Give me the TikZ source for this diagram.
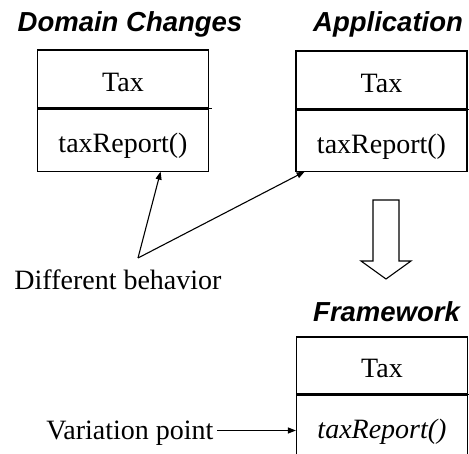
\documentclass[tikz,border=0pt]{standalone}
\usepackage{fontspec}
\setmainfont{Liberation Serif}
\setsansfont{Liberation Sans}
\usetikzlibrary{arrows.meta,calc,positioning}

\tikzset{
	classpart/.style={draw, line width=1.1pt, minimum width=171pt, inner sep=0pt, text height=25pt, text depth=0pt, font=\fontsize{28}{32}\selectfont},
	heading/.style={inner sep=0pt, anchor=base, font=\fontsize{27.5}{32}\selectfont\sffamily\bfseries\itshape},
	plain/.style={font=\fontsize{28}{32}\selectfont},
	ptr/.style={line width=1.1pt, -{Triangle[length=8pt,width=6pt]}}
}

\begin{document}
\begin{tikzpicture}[x=1pt, y=-1pt]
			%%%%% START %%%%%
			\useasboundingbox (0, 0) rectangle (469, 454);
			
			% titles
			\node[heading] (domTitle) at (130, 32) {Domain Changes};
			\node[heading, anchor=base west] (appTitle) at (313, 32) {Application};
			\node[heading, anchor=base west] (fwTitle) at (313, 322) {Framework};
			
			% domain changes class
			\node[classpart, minimum height=58pt] (domTax) at (123, 79) {Tax};
			\node[classpart, minimum height=62pt, below=0pt of domTax] (domOp) {taxReport()};
			\draw[line width=1.1pt] (domTax.south east) -- ++(3, 0);
			
			% application class
			\node[classpart, minimum height=58pt] (appTax) at (381.5, 80) {Tax};
			\node[classpart, minimum height=61pt, below=0pt of appTax] (appOp) {taxReport()};
			\draw[line width=1.1pt] (appTax.south east) -- ++(3, 0);
			
			% framework class
			\node[classpart, minimum height=57pt] (fwTax) at (382, 365.5) {Tax};
			\node[classpart, minimum height=62pt, below=0pt of fwTax] (fwOp) {\textit{taxReport()}};
			\draw[line width=1.1pt] (fwTax.south east) -- ++(3, 0);
			
			% hollow arrow
			\draw[line width=1.1pt, line join=miter] (373, 200) -- ++(26, 0) -- ++(0, 61) -- ++(12, 0) -- ++(-25, 18) -- ++(-25, -18) -- ++(12, 0) -- cycle;
			
			% labels and pointers
			\node[plain, anchor=base] (behav) at (118, 290) {Different behavior};
			\coordinate (bv) at (138, 258);
			\draw[ptr] (bv) -- (domOp.-40);
			\draw[ptr] (bv) -- (appOp.202);
			
			\node[plain, anchor=base east, text height=25pt, text depth=6pt] (varpt) at (217, 440) {Variation point};
			\draw[ptr] (varpt.east) -- (varpt.east -| fwOp.west);
			
			%%%%% END %%%%%
		\end{tikzpicture}
\end{document}
